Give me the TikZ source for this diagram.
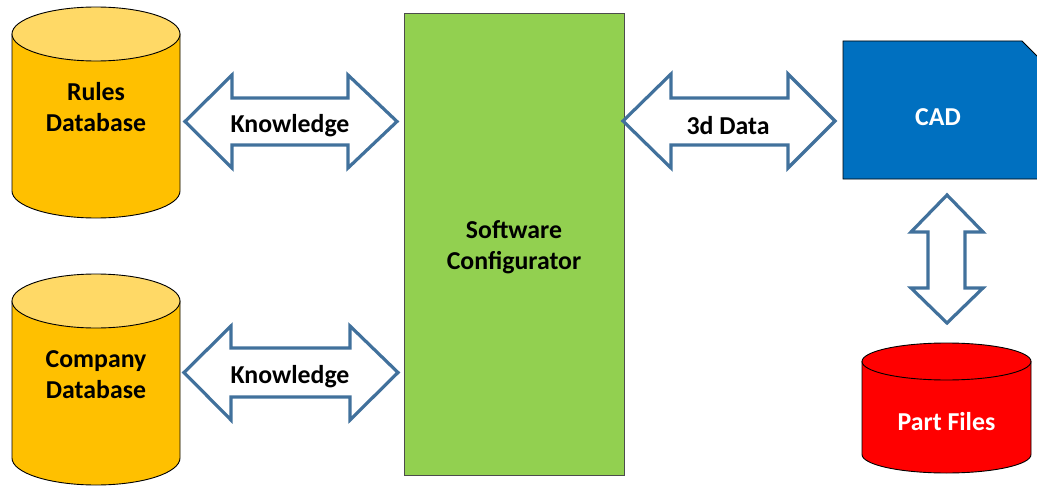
\documentclass[tikz,border=0pt]{standalone}
\usepackage{fontspec}
\setmainfont{Carlito}
\definecolor{dbyellow}{HTML}{FFC000}
\definecolor{dbtop}{HTML}{FFD966}
\definecolor{cfggreen}{HTML}{92D050}
\definecolor{cadblue}{HTML}{0070C0}
\definecolor{partred}{HTML}{FF0000}
\definecolor{arrowline}{HTML}{41719C}
\tikzset{
  lbl/.style={font=\fontsize{25.8}{31}\selectfont\bfseries, align=center, inner sep=0pt},
  blockarrow/.style={draw=arrowline, line width=3.2pt, fill=white, line join=miter},
  cylbody/.style={draw=black, line width=0.9pt},
}
\begin{document}
\begin{tikzpicture}[x=1pt,y=-1pt]
\useasboundingbox (0,0) rectangle (1037,487);
% Rules Database cylinder
\path[cylbody, fill=dbyellow] (12,34) -- (12,191) arc[start angle=180, end angle=0, x radius=84, y radius=27] -- (180,34) -- cycle;
\path[cylbody, fill=dbtop] (96,34) ellipse[x radius=84, y radius=27];
\node[lbl] (rules) at (96,107) {Rules\\Database};
% Company Database cylinder
\path[cylbody, fill=dbyellow] (12,301) -- (12,458) arc[start angle=180, end angle=0, x radius=84, y radius=27] -- (180,301) -- cycle;
\path[cylbody, fill=dbtop] (96,301) ellipse[x radius=84, y radius=27];
\node[lbl] (company) at (96,375) {Company\\Database};
% Software Configurator
\draw[draw=black!70, line width=1pt, fill=cfggreen] (404,14) rectangle (624,475);
\node[lbl] (cfg) at (514,247) {Software\\Configurator};
% CAD snipped rectangle
\draw[draw=black, line width=0.9pt, fill=cadblue] (843,41) -- (1022,41) -- (1042,61) -- (1042,179) -- (843,179) -- cycle;
\node[lbl, text=white] (cad) at (938,117) {CAD};
% Part Files cylinder
\path[cylbody, fill=partred] (862,361.5) -- (862,454.5) arc[start angle=180, end angle=0, x radius=84.5, y radius=18.5] -- (1031,361.5) -- cycle;
\path[cylbody, fill=partred] (946.5,361.5) ellipse[x radius=84.5, y radius=18.5];
\node[lbl, text=white] (parts) at (946.5,422) {Part Files};
% Knowledge arrow (top)
\draw[blockarrow] (185,121.5) -- (232,75) -- (232,98) -- (348,98) -- (348,75) -- (397,121.5) -- (348,168) -- (348,145) -- (232,145) -- (232,168) -- cycle;
\node[lbl] (know1) at (290,126) {Knowledge};
% Knowledge arrow (bottom)
\draw[blockarrow] (184,372.5) -- (231,326) -- (231,348) -- (350,348) -- (350,326) -- (398,372.5) -- (350,420) -- (350,397) -- (231,397) -- (231,420) -- cycle;
\node[lbl] (know2) at (290,377) {Knowledge};
% 3d Data arrow
\draw[blockarrow] (623,121) -- (671,74) -- (671,98) -- (788,98) -- (788,74) -- (835,121) -- (788,168) -- (788,145) -- (671,145) -- (671,168) -- cycle;
\node[lbl] (data3d) at (728,126) {3d Data};
% vertical arrow CAD <-> Part Files
\draw[blockarrow] (947,195) -- (983,232) -- (965,232) -- (965,288) -- (983,288) -- (947,323) -- (911,288) -- (928,288) -- (928,232) -- (911,232) -- cycle;
\end{tikzpicture}
\end{document}
